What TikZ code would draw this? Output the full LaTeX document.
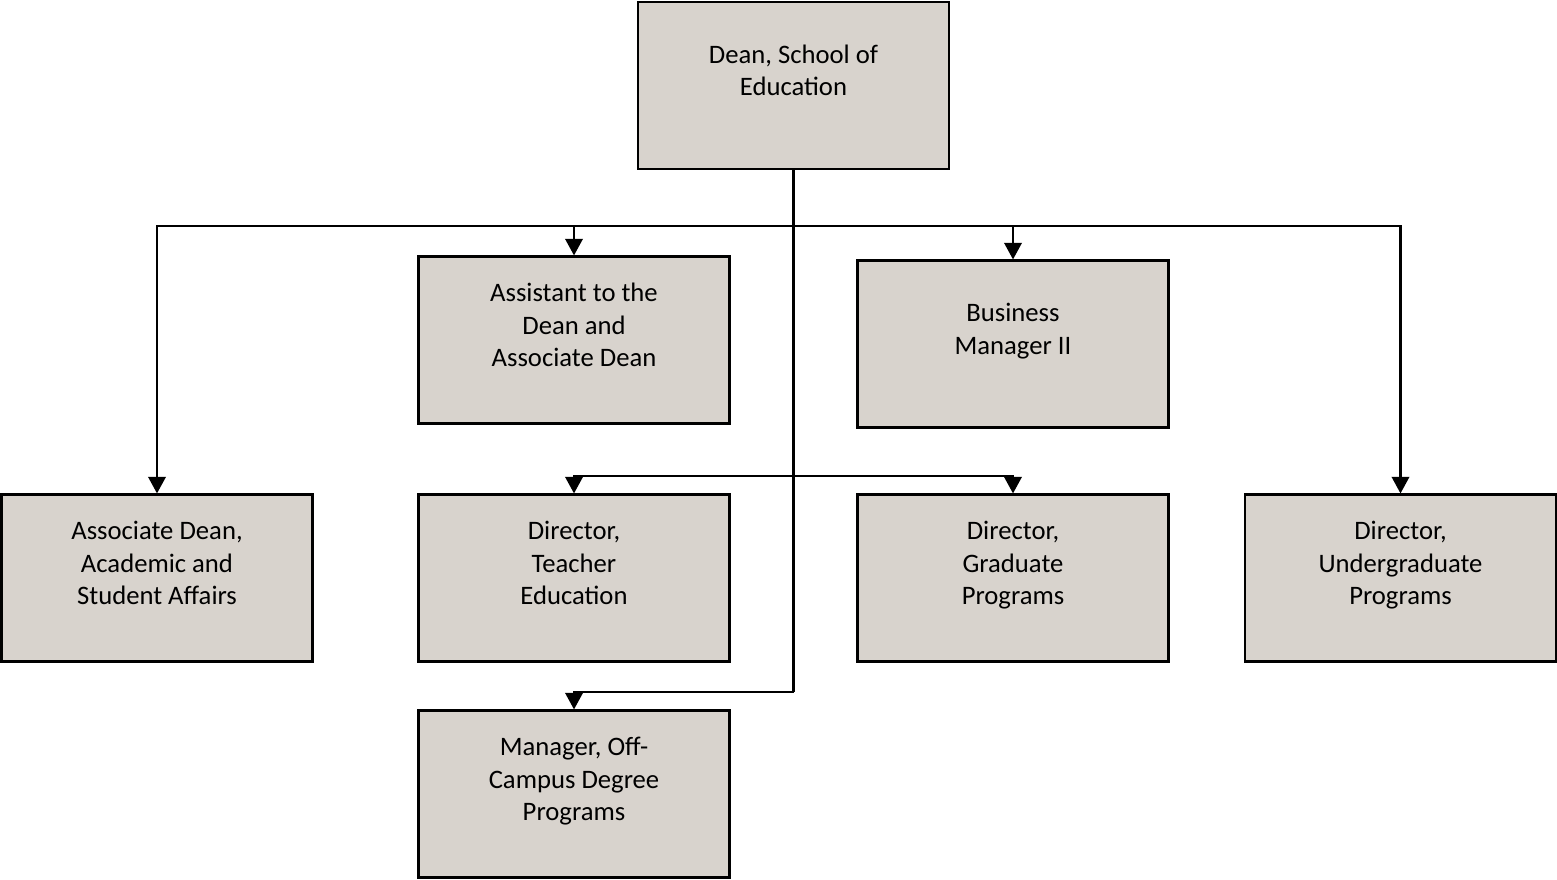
\documentclass[tikz,border=0pt]{standalone}
\usepackage{fontspec}
\setmainfont{Carlito}
\usetikzlibrary{arrows.meta}

\definecolor{boxgray}{RGB}{216,211,205}

\begin{document}
\begin{tikzpicture}[x=0.75pt,y=0.75pt,yscale=-1,xscale=1,
  unit/.style={draw, line width=1.8pt, fill=boxgray, minimum width=233pt, minimum height=125pt,
    align=center, font=\fontsize{20}{24.4}\selectfont, inner sep=0pt},
  link/.style={line width=2pt},
  arr/.style={link, -{Triangle[length=12.5pt,width=13pt]}}]
%set diagram from (0,0) to (1557,879)
\useasboundingbox (0,0) rectangle (1557,879);

% Boxes
\node[unit] (dean)  at (793.5,85.5) {Dean, School of\\Education\\[-9pt]\strut};
\node[unit] (asst)  at (574,340)    {Assistant to the\\Dean and\\Associate Dean\\[-9pt]\strut};
\node[unit] (biz)   at (1013,344)   {Business\\Manager II\\[-9pt]\strut};
\node[unit] (assoc) at (157,578)    {Associate Dean,\\Academic and\\Student Affairs\\[-9pt]\strut};
\node[unit] (teach) at (574,578)    {Director,\\Teacher\\Education\\[-9pt]\strut};
\node[unit] (grad)  at (1013,578)   {Director,\\Graduate\\Programs\\[-9pt]\strut};
\node[unit] (ugrad) at (1400.5,578) {Director,\\Undergraduate\\Programs\\[-9pt]\strut};
\node[unit] (offc)  at (574,794)    {Manager, Off-\\Campus Degree\\Programs\\[-9pt]\strut};

% Bus points
\coordinate (bus)  at (793.5,226);
\coordinate (mid)  at (793.5,476);
\coordinate (turn) at (793.5,692);

% Connectors
\draw[link] (dean.south) -- (turn);
\draw[arr] (turn) -| (offc.north);
\draw[arr] (bus) -| (assoc.north);
\draw[arr] (bus) -| (asst.north);
\draw[arr] (bus) -| (biz.north);
\draw[arr] (bus) -| (ugrad.north);
\draw[arr] (mid) -| (teach.north);
\draw[arr] (mid) -| (grad.north);

\end{tikzpicture}
\end{document}
